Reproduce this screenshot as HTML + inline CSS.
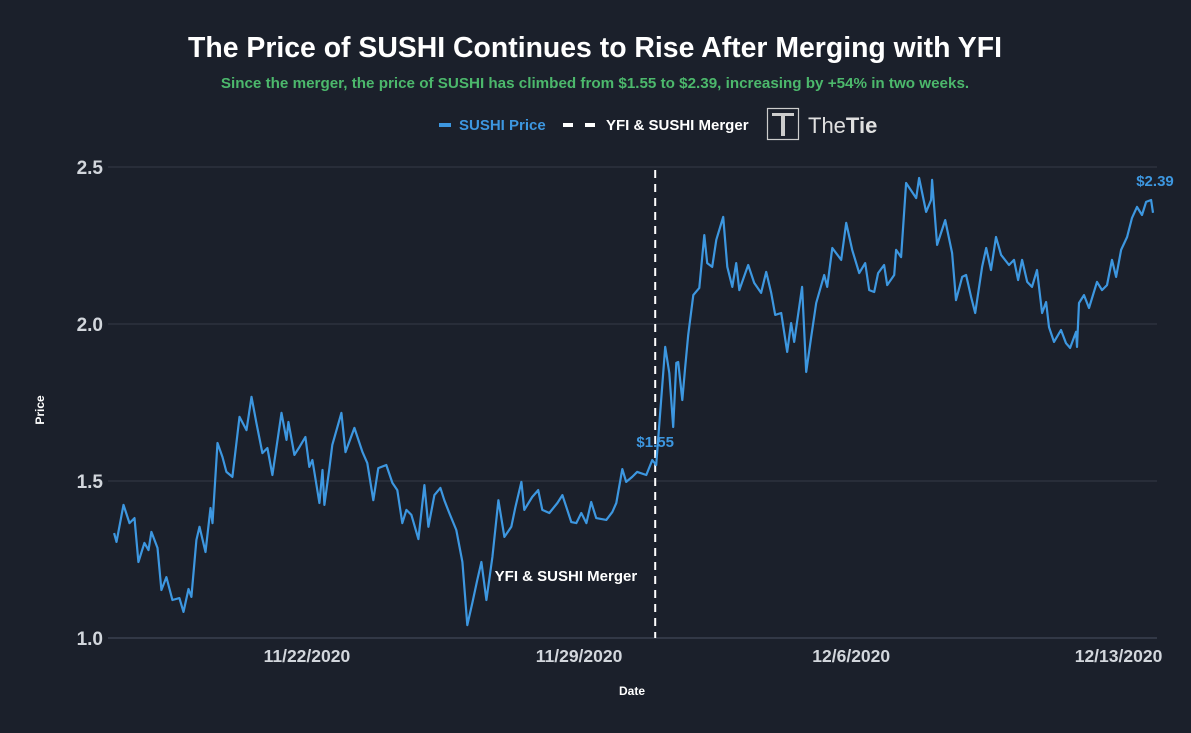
<!DOCTYPE html>
<html><head><meta charset="utf-8">
<style>
html,body{margin:0;padding:0;background:#1b202b;width:1191px;height:733px;overflow:hidden}
svg text{font-family:"Liberation Sans",Arial,sans-serif}
</style></head>
<body>
<svg id="chart" width="1191" height="733" xmlns="http://www.w3.org/2000/svg">
<rect width="1191" height="733" fill="#1b202b"/>
<text x="595" y="57" text-anchor="middle" font-size="28.4" font-weight="bold" fill="#ffffff">The Price of SUSHI Continues to Rise After Merging with YFI</text>
<text x="595" y="88" text-anchor="middle" font-size="15.2" font-weight="bold" fill="#4cb86c">Since the merger, the price of SUSHI has climbed from $1.55 to $2.39, increasing by +54% in two weeks.</text>
<g>
<g>
<rect x="439" y="123" width="12" height="4" fill="#3d97e0"/>
<text x="459" y="130" font-size="15" font-weight="bold" fill="#3d97e0">SUSHI Price</text></g>
<g>
<rect x="563" y="123" width="10" height="4" fill="#fff"/><rect x="585" y="123" width="10" height="4" fill="#fff"/>
<text x="606" y="130" font-size="15" font-weight="bold" fill="#fff">YFI &amp; SUSHI Merger</text></g>
<g>
<rect x="767.5" y="108.5" width="31" height="31" fill="none" stroke="#ccc" stroke-width="1.2"/>
<rect x="772" y="113" width="22" height="3" fill="#ccc"/><rect x="781" y="116" width="4" height="20" fill="#ccc"/>
<text x="808" y="133" font-size="22" fill="#e0e0e0">The<tspan font-weight="bold">Tie</tspan></text></g>
</g>
<g id="grid"></g>
<g id="yaxis"></g>
<g id="xaxis"></g>
<text transform="translate(44,410) rotate(-90)" text-anchor="middle" font-size="12" font-weight="bold" fill="#fff">Price</text>
<text x="632" y="695" text-anchor="middle" font-size="12" font-weight="bold" fill="#fff">Date</text>
<g id="marks"></g>
</svg>
<script>
const hours=[1,2.5,6.8,10.5,13.6,16,19.7,22.2,24,27.8,30.2,33.3,37,41.3,43.8,46.9,48.7,51.8,53.7,57.4,60.5,61.7,64.8,67.9,70.3,74,78.4,82.7,85.8,88.8,92.5,95.6,98.7,104.3,107.4,108.6,112.3,115.4,119.1,121.5,123.4,127.7,129.6,130.8,133.9,135.7,141.3,143.8,149.3,154.3,157.3,161,164.1,169,172.8,175.8,178.9,181.4,184.5,188.8,192.5,195,198.7,202.4,204.8,207.9,212.2,216,219,222.1,225.2,227.7,230.8,234.5,238.2,241.9,246.2,248.7,252.4,254.2,259.1,262.8,265.3,269.6,274.6,277.7,283.2,286.3,289.4,292.5,295.5,298.6,304.8,308.5,311,314.7,317.1,320.8,323.9,329.5,333.2,335.6,341.2,343.7,346.1,348,349.2,351.7,353.5,355.4,358.5,362.2,365.3,367.1,370.2,372.7,377,379.5,382.6,385,386.9,390.6,392.4,396.1,400.4,403.5,406.6,409.1,412.8,416.5,418.9,420.8,425.7,428.2,431.3,434.4,439.3,441.2,444.3,449.8,452.9,456.6,460.9,464.6,467.1,470.2,472.6,476.3,478.2,482.5,483.7,486.8,489.9,496.1,497.9,502.2,505.3,505.9,509,514,518.3,520.7,524.5,526.9,530,532.5,536.8,539.3,542.3,545.4,548.5,553.4,556.5,559,561.5,564.6,567.6,570.7,573.8,576.3,578.1,581.2,585.5,588.6,591.1,594.8,595.4,596.6,599.7,602.8,607.7,610.8,613.9,617,619.5,622.6,626.3,629.3,632.4,635.5,638,641.1,642.3];
const prices=[1.334,1.306,1.424,1.366,1.382,1.242,1.303,1.280,1.338,1.287,1.153,1.194,1.121,1.127,1.083,1.156,1.131,1.312,1.354,1.274,1.414,1.366,1.621,1.576,1.529,1.513,1.704,1.662,1.768,1.685,1.589,1.605,1.519,1.717,1.631,1.688,1.583,1.608,1.640,1.545,1.567,1.430,1.535,1.424,1.541,1.615,1.717,1.592,1.669,1.592,1.557,1.439,1.541,1.551,1.494,1.471,1.366,1.408,1.392,1.315,1.487,1.354,1.455,1.478,1.439,1.398,1.344,1.242,1.041,1.111,1.185,1.242,1.121,1.258,1.439,1.322,1.354,1.417,1.497,1.408,1.449,1.471,1.408,1.398,1.430,1.455,1.369,1.366,1.398,1.366,1.433,1.382,1.376,1.401,1.430,1.538,1.497,1.513,1.529,1.519,1.567,1.551,1.927,1.844,1.672,1.876,1.879,1.758,1.863,1.965,2.092,2.115,2.283,2.194,2.182,2.268,2.341,2.182,2.118,2.194,2.108,2.162,2.188,2.131,2.099,2.166,2.099,2.029,2.035,1.911,2.003,1.943,2.118,1.847,1.959,2.067,2.156,2.118,2.242,2.204,2.322,2.236,2.162,2.194,2.108,2.102,2.162,2.188,2.124,2.156,2.236,2.213,2.449,2.401,2.465,2.357,2.395,2.459,2.252,2.331,2.226,2.076,2.150,2.156,2.086,2.035,2.182,2.242,2.172,2.277,2.220,2.188,2.204,2.140,2.204,2.134,2.118,2.172,2.035,2.070,1.990,1.943,1.981,1.939,1.924,1.975,1.927,2.067,2.092,2.051,2.134,2.108,2.124,2.204,2.150,2.236,2.277,2.338,2.373,2.347,2.389,2.395,2.354];
const yTicks=[1.0,1.5,2.0,2.5];
const yTickLabels=["1.0","1.5","2.0","2.5"];
const xTickHours=[120,288,456,621];
const xTickLabels=["11/22/2020","11/29/2020","12/6/2020","12/13/2020"];
const mergerHour=335;
const startLabel="$1.55", endLabel="$2.39";

const NS="http://www.w3.org/2000/svg";
const X=h=>112.5+h*1.62;
const Y=p=>638-(p-1.0)*314;
function mk(tag,attrs,parent,text){const e=document.createElementNS(NS,tag);for(const k in attrs)e.setAttribute(k,attrs[k]);if(text!=null)e.textContent=text;parent.appendChild(e);return e;}
const grid=document.getElementById('grid'),ya=document.getElementById('yaxis'),xa=document.getElementById('xaxis'),marks=document.getElementById('marks');
yTicks.forEach((v,i)=>{
  const l=mk('line',{x1:108,x2:1157,y1:Y(v),y2:Y(v),stroke:i===0?'#4a5060':'#343a47','stroke-width':1},grid);
  
  
  const t=mk('text',{x:103,y:Y(v)+7,'text-anchor':'end','font-size':19,'font-weight':'bold',fill:'#d2d6dc'},ya,yTickLabels[i]);
  
  
});
xTickHours.forEach((h,i)=>{
  const t=mk('text',{x:X(h),y:662,'text-anchor':'middle','font-size':17.5,'font-weight':'bold',fill:'#d2d6dc'},xa,xTickLabels[i]);
  
  
});
const ml=mk('line',{x1:X(mergerHour),x2:X(mergerHour),y1:170,y2:638,stroke:'#fff','stroke-width':2,'stroke-dasharray':'8,6'},marks);


const an=mk('text',{x:X(mergerHour)-18,y:581,'text-anchor':'end','font-size':15,'font-weight':'bold',fill:'#fff'},marks,'YFI & SUSHI Merger');


let d='';hours.forEach((h,i)=>{d+=(i?'L':'M')+X(h).toFixed(1)+','+Y(prices[i]).toFixed(1);});
const path=mk('path',{d:d,fill:'none',stroke:'#3d97e0','stroke-width':2.2,'stroke-linejoin':'round'},marks);


const sl=mk('text',{x:X(mergerHour),y:447,'text-anchor':'middle','font-size':15,'font-weight':'bold',fill:'#3d97e0'},marks,startLabel);


const el=mk('text',{x:1155,y:186,'text-anchor':'middle','font-size':15,'font-weight':'bold',fill:'#3d97e0'},marks,endLabel);


</script>
</body></html>
